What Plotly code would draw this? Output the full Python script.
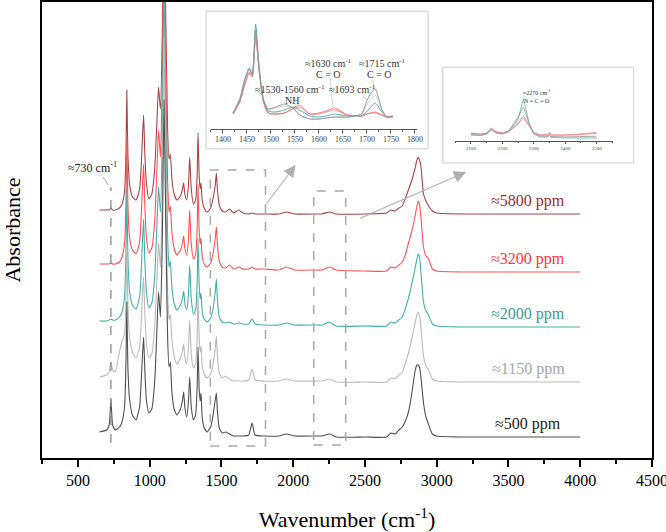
import plotly.graph_objects as go

# ---------------- data ----------------
series_names = ["≈5800 ppm", "≈3200 ppm", "≈2000 ppm", "≈1150 ppm", "≈500 ppm"]
line_colors = ["#a84444", "#ff5252", "#42b0a8", "#bababa", "#505050"]
label_colors = ["#a52a2a", "#ff3333", "#3a9a94", "#a6a6a6", "#222222"]
inset_colors = ["#e08080", "#ff6a6a", "#3aa7a0", "#c8c8c8", "#8c8c8c"]
stack_offsets = [2.44, 1.86, 1.31, 0.76, 0.21]

wavenumber = [
    650, 700, 718, 730, 742, 760, 790, 805, 825, 835, 841, 848, 860, 880, 905, 930, 942, 950, 958, 966,
    978, 995, 1015, 1035, 1050, 1062, 1075, 1088, 1100, 1112, 1125, 1135, 1144, 1155, 1170, 1190, 1215, 1230, 1237, 1245,
    1258, 1270, 1279, 1290, 1305, 1320, 1331, 1337, 1345, 1352, 1358, 1366, 1380, 1400, 1425, 1440, 1450, 1458, 1465, 1472,
    1485, 1505, 1530, 1556, 1585, 1621, 1650, 1690, 1714, 1735, 1800, 1900, 1954, 2010, 2150, 2200, 2254, 2300, 2500, 2650,
    2680, 2710, 2737, 2760, 2785, 2805, 2825, 2848, 2862, 2871, 2880, 2890, 2908, 2925, 2940, 2970, 3000, 3200, 3500, 4000,
]

# absorbance in units of 0.01 a.u.
absorb_5800 = [
    4, 4, 4, 6, 4, 4, 6, 9, 22, 60, 124, 62, 30, 17, 14, 25, 50, 78, 99, 62,
    30, 15, 20, 45, 90, 127, 105, 180, 345, 200, 85, 55, 60, 35, 20, 14, 18, 26, 31, 20,
    14, 28, 57, 25, 10, 14, 40, 81, 38, 25, 31, 14, 6, 2, 6, 14, 22, 30, 41, 25,
    9, 3, 2, 5, 1, 4, 1, 0, 1, 0, 0, 0, 2, 0, 0, 0, 2, 0, 0, 1,
    4, 3, 6, 8, 17, 25, 33, 45, 54, 57, 54, 48, 20, 13, 9, 3, 1, 0, 0, 0,
]
absorb_3200 = [
    8, 8, 8, 9, 8, 8, 10, 14, 28, 70, 135, 70, 35, 22, 18, 30, 58, 85, 108, 68,
    34, 19, 24, 50, 100, 142, 115, 190, 345, 210, 92, 60, 66, 40, 24, 17, 22, 30, 36, 24,
    17, 32, 62, 28, 13, 17, 44, 88, 42, 28, 34, 16, 8, 5, 9, 17, 26, 35, 45, 28,
    11, 5, 4, 7, 3, 5, 3, 3, 5, 3, 3, 2, 5, 2, 2, 2, 5, 2, 1, 1,
    5, 4, 7, 10, 19, 30, 40, 55, 66, 71, 68, 55, 25, 16, 14, 3, 1, 0, 0, 0,
]
absorb_2000 = [
    6, 6, 7, 8, 7, 7, 10, 14, 30, 72, 138, 72, 36, 22, 18, 30, 58, 86, 108, 68,
    34, 19, 24, 50, 100, 140, 115, 190, 350, 210, 92, 60, 66, 40, 24, 17, 22, 30, 36, 24,
    17, 32, 62, 28, 13, 17, 44, 88, 42, 28, 34, 16, 8, 5, 9, 17, 27, 36, 48, 28,
    10, 5, 4, 5, 3, 4, 3, 3, 8, 3, 2, 2, 4, 2, 2, 2, 5, 1, 1, 1,
    5, 4, 7, 10, 20, 30, 42, 58, 68, 73, 70, 55, 25, 16, 13, 3, 1, 0, 0, 0,
]
absorb_1150 = [
    5, 7, 10, 20, 12, 10, 30, 40, 48, 85, 137, 80, 45, 30, 24, 35, 60, 88, 105, 70,
    38, 24, 28, 55, 100, 140, 115, 190, 345, 210, 92, 62, 68, 42, 26, 18, 24, 32, 38, 25,
    18, 33, 62, 28, 14, 18, 46, 90, 44, 30, 36, 17, 8, 4, 8, 16, 26, 35, 46, 26,
    9, 4, 6, 3, 1, 1, 1, 2, 13, 2, 1, 1, 3, 1, 1, 1, 3, 0, 0, 0,
    4, 3, 7, 10, 20, 30, 42, 58, 67, 70, 67, 55, 26, 16, 13, 3, 1, 0, 0, 0,
]
absorb_500 = [
    5, 7, 12, 38, 12, 7, 10, 14, 30, 75, 135, 72, 38, 22, 17, 30, 58, 82, 100, 68,
    36, 24, 28, 55, 105, 145, 120, 195, 337, 215, 100, 70, 75, 45, 28, 22, 28, 38, 45, 30,
    20, 35, 60, 30, 17, 22, 50, 90, 48, 36, 44, 20, 9, 5, 10, 20, 30, 38, 44, 26,
    9, 4, 5, 3, 1, 1, 1, 2, 14, 2, 1, 1, 3, 1, 1, 1, 3, 0, 0, 0,
    4, 3, 7, 10, 17, 26, 42, 65, 72, 72, 70, 60, 34, 20, 14, 3, 1, 0, 0, 0,
]
main_absorb = [absorb_5800, absorb_3200, absorb_2000, absorb_1150, absorb_500]

# inset 1: 1400-1800 cm-1 (absorbance, a.u.)
inset1_wn = [1421, 1435, 1446, 1455, 1461, 1468, 1475, 1484, 1494, 1510, 1528, 1546, 1560,
             1581, 1599, 1615, 1632, 1660, 1688, 1699, 1708, 1717, 1731, 1741, 1754]
inset1_5800 = [.15, .27, .45, .56, .52, .93, .59, .28, .16, .15, .16, .20, .22,
               .15, .15, .17, .19, .14, .13, .15, .16, .16, .14, .12, .13]
inset1_3200 = [.15, .27, .46, .57, .53, .95, .60, .28, .16, .15, .16, .21, .24,
               .15, .16, .18, .21, .14, .13, .15, .16, .17, .14, .12, .13]
inset1_2000 = [.16, .30, .51, .61, .55, 1.05, .64, .30, .18, .17, .19, .22, .19,
               .13, .12, .13, .15, .13, .13, .17, .22, .26, .17, .12, .12]
inset1_1150 = [.16, .29, .50, .60, .54, .97, .62, .30, .20, .21, .23, .20, .14,
               .10, .10, .11, .12, .12, .14, .24, .30, .34, .19, .12, .12]
inset1_500 = [.16, .29, .50, .60, .54, .99, .62, .30, .20, .22, .25, .21, .14,
              .10, .10, .11, .12, .12, .15, .27, .36, .40, .20, .12, .12]
inset1_absorb = [inset1_5800, inset1_3200, inset1_2000, inset1_1150, inset1_500]

# inset 2: 2100-2500 cm-1 (absorbance, a.u.)
inset2_wn = [2100, 2130, 2150, 2165, 2180, 2200, 2220, 2240, 2250, 2267, 2285, 2300,
             2320, 2345, 2350, 2355, 2400, 2450, 2500]
inset2_5800 = [.075, .07, .08, .13, .095, .08, .10, .15, .18, .25, .16, .085, .06, .065, .09, .06, .06, .07, .085]
inset2_3200 = [.08, .07, .08, .12, .09, .08, .10, .14, .17, .23, .15, .08, .06, .06, .08, .06, .06, .065, .08]
inset2_2000 = [.06, .055, .07, .11, .08, .07, .09, .17, .22, .42, .18, .07, .04, .04, .06, .035, .03, .03, .03]
inset2_1150 = [.06, .055, .07, .11, .08, .07, .09, .16, .19, .26, .15, .07, .05, .045, .055, .045, .04, .04, .045]
inset2_500 = [.065, .06, .075, .12, .085, .075, .10, .20, .24, .34, .17, .08, .05, .05, .06, .045, .04, .045, .05]
inset2_absorb = [inset2_5800, inset2_3200, inset2_2000, inset2_1150, inset2_500]

main_ticks = [500, 1000, 1500, 2000, 2500, 3000, 3500, 4000, 4500]
inset1_ticks = [1400, 1450, 1500, 1550, 1600, 1650, 1700, 1750, 1800]
inset2_ticks = [2100, 2200, 2300, 2400, 2500]

FONT = "Liberation Serif, Times New Roman, serif"

# ---------------- figure ----------------
fig = go.Figure()

for name, vals, off, col in zip(series_names, main_absorb, stack_offsets, line_colors):
    fig.add_trace(go.Scatter(
        x=wavenumber, y=[off + v / 100 for v in vals], mode="lines", name=name,
        line=dict(color=col, width=1.1, shape="spline", smoothing=0.5),
        showlegend=False, hoverinfo="skip"))

for vals, col in zip(inset1_absorb, inset_colors):
    fig.add_trace(go.Scatter(x=inset1_wn, y=vals, mode="lines", xaxis="x2", yaxis="y2",
                             line=dict(color=col, width=0.9, shape="spline", smoothing=0.6),
                             showlegend=False, hoverinfo="skip"))
for vals, col in zip(inset2_absorb, inset_colors):
    fig.add_trace(go.Scatter(x=inset2_wn, y=vals, mode="lines", xaxis="x3", yaxis="y3",
                             line=dict(color=col, width=0.7), showlegend=False, hoverinfo="skip"))

shapes = [
    # inset frames
    dict(type="rect", xref="paper", yref="paper", x0=0.269, x1=0.633, y0=0.678, y1=0.980,
         line=dict(color="#cccccc", width=1), fillcolor="white", layer="below"),
    dict(type="rect", xref="paper", yref="paper", x0=0.657, x1=0.970, y0=0.647, y1=0.857,
         line=dict(color="#cccccc", width=1), fillcolor="white", layer="below"),
    # dashed zoom boxes
    dict(type="rect", xref="x", yref="y", x0=1423, x1=1807, y0=0.12, y1=2.88,
         line=dict(color="#a8a8a8", width=1.5, dash="dash")),
    dict(type="rect", xref="x", yref="y", x0=2143, x1=2366, y0=0.13, y1=2.67,
         line=dict(color="#a8a8a8", width=1.5, dash="dash")),
    # 730 cm-1 marker
    dict(type="line", xref="x", yref="y", x0=730, x1=730, y0=0.15, y1=2.71,
         line=dict(color="#8a8a8a", width=1.3, dash="dash")),
    dict(type="line", xref="x", yref="y", x0=676, x1=711, y0=2.81, y1=2.73,
         line=dict(color="#999999", width=0.8)),
    # inset 1 leader lines
    dict(type="line", xref="x2", yref="y2", x0=1623, x1=1629, y0=0.51, y1=0.22,
         line=dict(color="#c8c8c8", width=0.8)),
    dict(type="line", xref="x2", yref="y2", x0=1690, x1=1702, y0=0.34, y1=0.28,
         line=dict(color="#c8c8c8", width=0.8)),
    dict(type="line", xref="x2", yref="y2", x0=1712, x1=1717, y0=0.49, y1=0.39,
         line=dict(color="#c8c8c8", width=0.8)),
]

annotations = []
for name, off, col in zip(series_names, stack_offsets, label_colors):
    annotations.append(dict(x=3637, y=off + 0.13, xref="x", yref="y", text=name, showarrow=False,
                            font=dict(family=FONT, size=16, color=col)))
annotations += [
    dict(x=599, y=2.91, xref="x", yref="y", text="≈730 cm<sup>-1</sup>", showarrow=False,
         font=dict(family=FONT, size=12, color="#222")),
    # arrows
    dict(x=2017, y=2.93, ax=1807, ay=2.53, xref="x", yref="y", axref="x", ayref="y", text="",
         showarrow=True, arrowhead=2, arrowsize=2.2, arrowwidth=1.1, arrowcolor="#b0b0b0"),
    dict(x=3204, y=2.86, ax=2457, ay=2.39, xref="x", yref="y", axref="x", ayref="y", text="",
         showarrow=True, arrowhead=2, arrowsize=2.2, arrowwidth=1.1, arrowcolor="#b0b0b0"),
    # inset 1 labels
    dict(x=1619, y=0.66, xref="x2", yref="y2", text="≈1630 cm<sup>-1</sup>", showarrow=False,
         font=dict(family=FONT, size=10, color="#333")),
    dict(x=1619, y=0.55, xref="x2", yref="y2", text="C = O", showarrow=False,
         font=dict(family=FONT, size=10, color="#333")),
    dict(x=1733, y=0.66, xref="x2", yref="y2", text="≈1715 cm<sup>-1</sup>", showarrow=False,
         font=dict(family=FONT, size=10, color="#333")),
    dict(x=1727, y=0.55, xref="x2", yref="y2", text="C = O", showarrow=False,
         font=dict(family=FONT, size=10, color="#333")),
    dict(x=1540, y=0.40, xref="x2", yref="y2", text="≈1530-1560 cm<sup>-1</sup>", showarrow=False,
         font=dict(family=FONT, size=10, color="#333")),
    dict(x=1544, y=0.29, xref="x2", yref="y2", text="NH", showarrow=False,
         font=dict(family=FONT, size=10, color="#333")),
    dict(x=1669, y=0.40, xref="x2", yref="y2", text="≈1693 cm<sup>-1</sup>", showarrow=False,
         font=dict(family=FONT, size=10, color="#333")),
    # inset 2 labels
    dict(x=2310, y=0.49, xref="x3", yref="y3", text="≈2270 cm<sup>-1</sup>", showarrow=False,
         font=dict(family=FONT, size=6, color="#333")),
    dict(x=2310, y=0.40, xref="x3", yref="y3", text="N = C = O", showarrow=False,
         font=dict(family=FONT, size=6, color="#333")),
]

fig.update_layout(
    width=666, height=532,
    margin=dict(l=42, r=14, t=2, b=74),
    paper_bgcolor="white", plot_bgcolor="white",
    font=dict(family=FONT, color="black"),
    shapes=shapes, annotations=annotations,
    xaxis=dict(range=[250, 4500], tickvals=main_ticks, ticks="outside", ticklen=7, tickwidth=1.5,
               tickcolor="black", minor=dict(dtick=250, tick0=0, ticks="outside", ticklen=4, tickcolor="black"),
               showline=True, linecolor="black", linewidth=1.5, mirror=True, automargin=False,
               ticklabeloverflow="allow",
               showgrid=False, zeroline=False, tickfont=dict(family=FONT, size=16),
               title=dict(text="Wavenumber (cm<sup>-1</sup>)", font=dict(family=FONT, size=22), standoff=27)),
    yaxis=dict(range=[0, 4.56], showticklabels=False, ticks="", showline=True, linecolor="black",
               linewidth=1.5, mirror=True, showgrid=False, zeroline=False, automargin=False,
               title=dict(text="Absorbance", font=dict(family=FONT, size=22), standoff=14)),
    xaxis2=dict(domain=[0.277, 0.6154], anchor="y2", range=[1375, 1805], tickvals=inset1_ticks,
                ticks="outside", ticklen=3, tickcolor="#555", tickwidth=0.8,
                minor=dict(dtick=25, tick0=1375, ticks="outside", ticklen=2, tickcolor="#555"),
                showline=True, linecolor="#555", linewidth=0.8, showgrid=False, zeroline=False,
                tickfont=dict(family=FONT, size=8, color="#444")),
    yaxis2=dict(domain=[0.7215, 0.9605], anchor="x2", range=[0, 1.09], visible=False),
    xaxis3=dict(domain=[0.677, 0.936], anchor="y3", range=[2049, 2552], tickvals=inset2_ticks,
                ticks="outside", ticklen=2, tickcolor="#555", tickwidth=0.6,
                minor=dict(dtick=50, tick0=2050, ticks="outside", ticklen=1.5, tickcolor="#555"),
                showline=True, linecolor="#555", linewidth=0.6, showgrid=False, zeroline=False,
                tickfont=dict(family=FONT, size=5, color="#444")),
    yaxis3=dict(domain=[0.695, 0.807], anchor="x3", range=[0, 0.51], visible=False),
)

fig.write_html("out.html", config={"displayModeBar": False},
               post_script="document.body.style.margin='0';")
